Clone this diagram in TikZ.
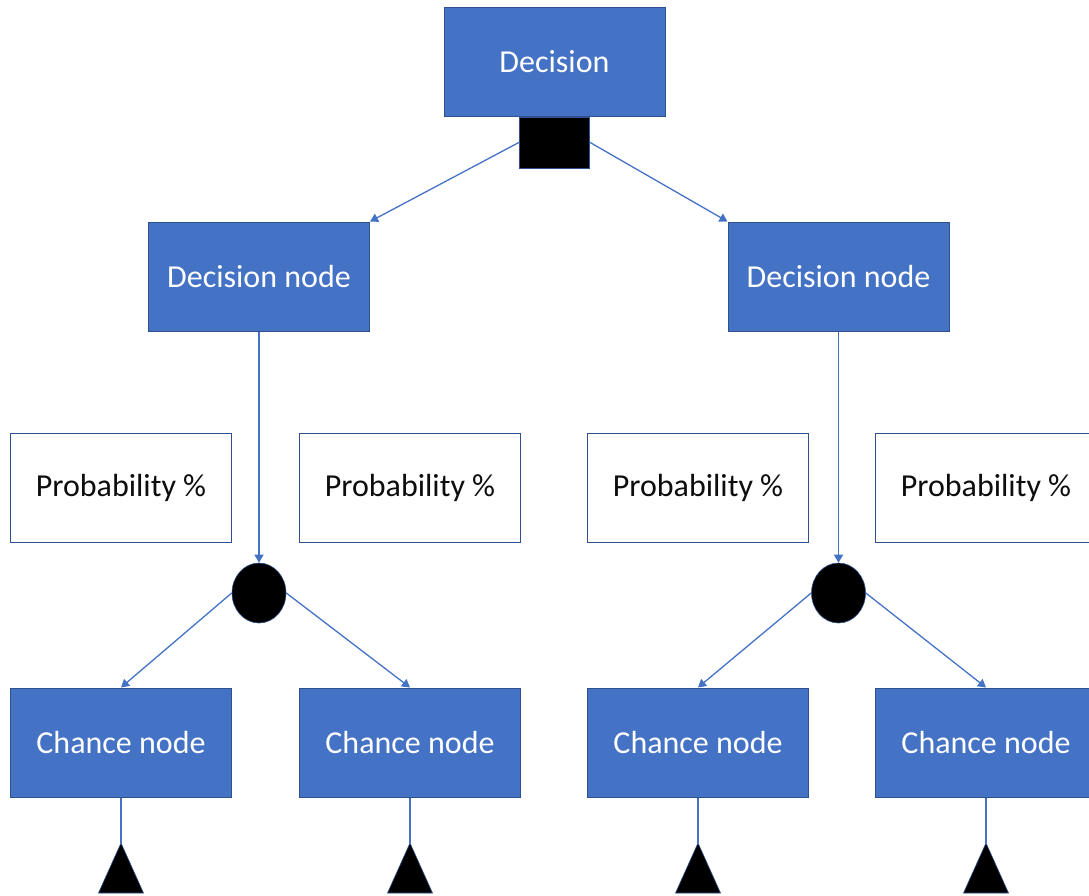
\documentclass[tikz,border=0pt]{standalone}
\usepackage{fontspec}
\setmainfont{Carlito}
\usetikzlibrary{arrows.meta,shapes.geometric}
\definecolor{boxblue}{HTML}{4472C4}
\definecolor{edgeblue}{HTML}{2F528F}
\begin{document}
\begin{tikzpicture}[x=1pt,y=-1pt,
  card/.style={rectangle, minimum width=221pt, minimum height=109pt, inner sep=0pt,
    draw=edgeblue, line width=1pt, font=\fontsize{32}{38}\selectfont},
  bluebox/.style={card, fill=boxblue, text=white},
  probbox/.style={card, fill=white, text=black!95},
  link/.style={draw=boxblue, line width=1.3pt, -{Triangle[length=8pt,width=9pt]}},
  stem/.style={draw=boxblue, line width=1.3pt},
  chancemark/.style={ellipse, fill=black, draw=edgeblue, line width=0.6pt,
    minimum width=54pt, minimum height=60pt, inner sep=0pt},
  choicemark/.style={rectangle, fill=black, draw=edgeblue, line width=0.6pt,
    minimum width=70pt, minimum height=51pt, inner sep=0pt},
  leaf/.style={fill=black, draw=edgeblue, line width=0.6pt}
]
\clip (0,0) rectangle (1089,895);
\useasboundingbox (0,0) rectangle (1089,895);

% root decision and its choice marker
\node[bluebox] (top) at (554.5,61.5) {Decision};
\node[choicemark, anchor=north] (sq) at (top.south) {};

% decision nodes
\node[bluebox] (dn1) at (259,276.5) {Decision node};
\node[bluebox] (dn2) at (838.5,276.5) {Decision node};

% probability labels
\node[probbox] (p1) at (121,488) {Probability \%};
\node[probbox] (p2) at (410,488) {Probability \%};
\node[probbox] (p3) at (698,488) {Probability \%};
\node[probbox] (p4) at (986,488) {Probability \%};

% chance markers
\node[chancemark] (c1) at (259,593) {};
\node[chancemark] (c2) at (838.5,593) {};

% chance nodes
\node[bluebox] (ch1) at (121,742.5) {Chance node};
\node[bluebox] (ch2) at (410,742.5) {Chance node};
\node[bluebox] (ch3) at (698,742.5) {Chance node};
\node[bluebox] (ch4) at (986,742.5) {Chance node};

% terminal triangles
\foreach \i/\x in {1/121,2/410,3/698,4/986}{
  \coordinate (t\i) at (\x,843);
  \filldraw[leaf] (t\i) -- ++(22.5,50) -- ++(-45,0) -- cycle;
}

% connectors
\draw[link] (sq.west) -- (dn1.north east);
\draw[link] (sq.east) -- (dn2.north west);
\draw[link] (dn1.south) -- (c1.north);
\draw[link] (dn2.south) -- (c2.north);
\draw[link] (c1.west) -- (ch1.north);
\draw[link] (c1.east) -- (ch2.north);
\draw[link] (c2.west) -- (ch3.north);
\draw[link] (c2.east) -- (ch4.north);
\foreach \i in {1,2,3,4}{
  \draw[stem] (ch\i.south) -- (t\i);
}
\end{tikzpicture}
\end{document}
